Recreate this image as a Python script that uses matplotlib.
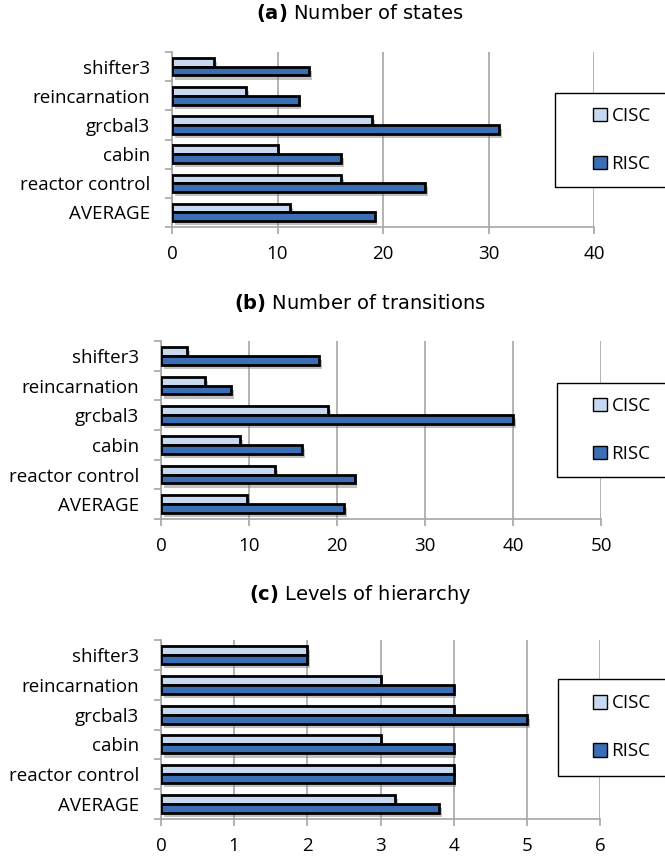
import matplotlib
matplotlib.use("Agg")
import matplotlib.pyplot as plt
import matplotlib.patheffects as pe
from matplotlib.patches import Rectangle, Patch
import numpy as np

categories = ["shifter3", "reincarnation", "grcbal3", "cabin", "reactor control", "AVERAGE"]
series = ["CISC", "RISC"]

states_cisc = [4, 7, 19, 10, 16, 11.2]
states_risc = [13, 12, 31, 16, 24, 19.2]
trans_cisc = [3, 5, 19, 9, 13, 9.8]
trans_risc = [18, 8, 40, 16, 22, 20.8]
levels_cisc = [2, 3, 4, 3, 4, 3.2]
levels_risc = [2, 4, 5, 4, 4, 3.8]

titles = ["(a)", "(b)", "(c)"]
subtitles = ["Number of states", "Number of transitions", "Levels of hierarchy"]
xmax = [40, 50, 6]
xstep = [10, 10, 1]

LIGHT = "#C6D9F1"
DARK = "#3A6EB5"
GRID = "#A6A6A6"
W, H = 665, 856

plt.rcParams["font.family"] = ["Open Sans", "DejaVu Sans"]

fig = plt.figure(figsize=(W / 100, H / 100), dpi=100)

# axes boxes in pixels: left, top, right, bottom
boxes = [(172, 52, 594, 227), (161, 341, 601, 519), (161, 640, 600, 819)]
title_y = [13, 303, 595]
legend_boxes = [(555, 93, 187), (557, 383, 477), (558, 679, 776)]
data = [(states_cisc, states_risc), (trans_cisc, trans_risc), (levels_cisc, levels_risc)]

shadow = [pe.SimplePatchShadow(offset=(2, -3), shadow_rgbFace="#777777", alpha=0.45), pe.Normal()]

for i, (cisc, risc) in enumerate(data):
    l, t, r, b = boxes[i]
    ax = fig.add_axes([l / W, 1 - b / H, (r - l) / W, (b - t) / H])
    y = np.arange(len(categories))
    h = 0.30
    b1 = ax.barh(y - h / 2, cisc, height=h, color=LIGHT, edgecolor="black", linewidth=2.0, zorder=3)
    b2 = ax.barh(y + h / 2, risc, height=h, color=DARK, edgecolor="black", linewidth=2.0, zorder=3)
    for bar in list(b1) + list(b2):
        bar.set_path_effects(shadow)
    ax.set_ylim(len(categories) - 0.5, -0.5)
    ax.set_xlim(0, xmax[i])
    ax.set_xticks(np.arange(0, xmax[i] + xstep[i] / 2, xstep[i]))
    ax.set_yticks(y)
    ax.set_yticklabels(categories, fontsize=13.5)
    ax.set_yticks(np.arange(-0.5, len(categories)), minor=True)
    ax.tick_params(axis="y", which="major", length=0, pad=16)
    ax.tick_params(axis="y", which="minor", length=5, color=GRID, width=1.2)
    ax.tick_params(axis="x", length=5, color=GRID, width=1.2, labelsize=13.5, pad=8)
    ax.grid(axis="x", color=GRID, linewidth=1.2, zorder=0)
    for s in ["top", "right"]:
        ax.spines[s].set_visible(False)
    for s in ["left", "bottom"]:
        ax.spines[s].set_color(GRID)
        ax.spines[s].set_linewidth(1.2)
    ax.set_axisbelow(True)

    fig.text(360 / W, 1 - title_y[i] / H, r"$\bf{" + titles[i] + "}$ " + subtitles[i],
             family="DejaVu Sans", fontsize=14, ha="center", va="center")

    lx, ly0, ly1 = legend_boxes[i]
    fig.patches.append(Rectangle((lx / W, 1 - ly1 / H), (W + 10 - lx) / W, (ly1 - ly0) / H,
                                 transform=fig.transFigure, facecolor="white",
                                 edgecolor="black", linewidth=1.0, zorder=5))
    handles = [Patch(facecolor=LIGHT, edgecolor="black", linewidth=1.0),
               Patch(facecolor=DARK, edgecolor="black", linewidth=1.0)]
    leg = fig.legend(handles, series, loc="center left",
                     bbox_to_anchor=(584 / W, 1 - (ly0 + ly1) / 2 / H),
                     frameon=False, fontsize=13.5, handlelength=0.72, handleheight=0.72,
                     handletextpad=0.25, labelspacing=1.6, borderpad=0)
    leg.set_zorder(6)

fig.savefig("out.png", dpi=100)
